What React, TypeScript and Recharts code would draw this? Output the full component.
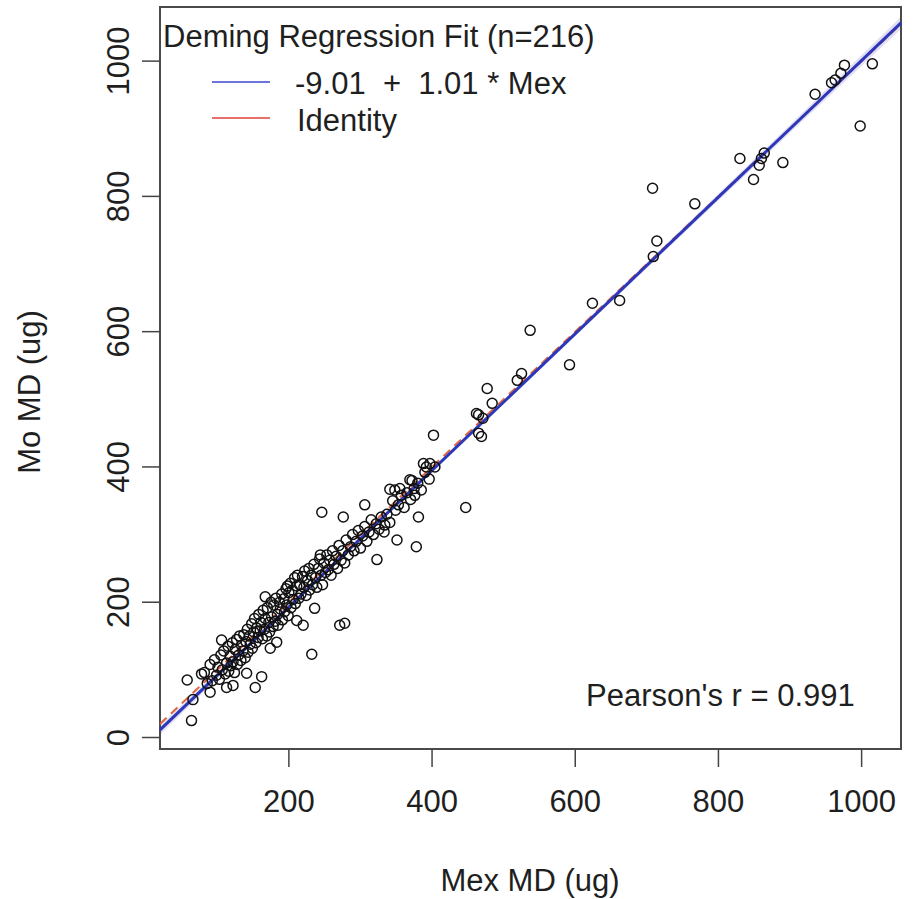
import { ComposedChart, Scatter, Area, XAxis, YAxis, ReferenceLine, ReferenceArea, Customized } from 'recharts'

const xTicks = [200, 400, 600, 800, 1000]
const yTicks = [0, 200, 400, 600, 800, 1000]
const xDomain = [20, 1055]
const yDomain = [-17, 1080]

const fitIntercept = -9.01
const fitSlope = 1.01
const pearsonR = 0.991

// confidence band around the fit, half-width
const bandX = [20, 150, 300, 500, 700, 900, 1055]
const bandHalf = [7, 4, 3, 3, 4, 6, 9]

// points [Mex, Mo]
const highPoints = [
  [1015, 996], [998, 904], [976, 994], [971, 982], [963, 972], [958, 968], [935, 951],
  [890, 850], [864, 864], [860, 856], [857, 846], [849, 825], [830, 856], [767, 789],
  [714, 734], [709, 711], [708, 812], [662, 646], [624, 642], [592, 551], [537, 602],
  [525, 538], [519, 528], [477, 516], [484, 494], [462, 479],
  [465, 477], [471, 472], [465, 450], [469, 445], [402, 447], [447, 340],
]

const midPoints = [
  [397, 405], [388, 405], [404, 400], [369, 381], [376, 358], [381, 326], [378, 282],
  [351, 292], [348, 366], [341, 367], [334, 314], [323, 263], [306, 344], [276, 326],
  [246, 333], [278, 169], [271, 166], [232, 123], [236, 191], [220, 166], [211, 173],
]

const lowPoints = [
  [162, 90], [153, 74], [141, 95], [122, 77], [113, 74], [90, 67], [58, 85],
  [78, 94], [66, 56], [64, 25], [106, 144], [167, 208], [183, 141], [174, 132],
]

const clusterPoints = [
  [82, 96], [86, 80], [90, 108], [93, 84], [96, 115], [99, 92], [101, 104], [103, 86], [105, 122], [107, 100],
  [109, 128], [111, 94], [113, 110], [115, 135], [116, 98], [118, 120], [119, 106], [121, 140], [122, 112], [124, 96],
  [125, 130], [127, 145], [128, 108], [130, 122], [131, 150], [133, 114], [134, 136], [136, 128], [137, 152], [139, 118],
  [140, 142], [142, 160], [143, 126], [145, 150], [146, 138], [148, 168], [149, 132], [151, 156], [152, 176], [154, 140],
  [155, 162], [157, 148], [158, 182], [160, 158], [161, 170], [163, 146], [164, 188], [166, 160], [167, 176], [169, 150],
  [170, 192], [172, 170], [173, 156], [175, 200], [176, 178], [178, 164], [179, 196], [181, 172], [182, 206], [184, 182],
  [185, 166], [187, 200], [188, 190], [190, 212], [191, 174], [193, 205], [194, 186], [196, 220], [197, 196], [199, 180],
  [200, 214], [202, 228], [203, 192], [205, 218], [206, 204], [208, 236], [209, 198], [211, 224], [212, 240], [214, 206],
  [215, 226], [217, 212], [219, 238], [221, 222], [222, 246], [224, 210], [226, 232], [228, 250], [229, 218], [231, 240],
  [233, 226], [235, 256], [237, 236], [239, 222], [241, 250], [243, 264], [245, 240], [247, 226], [249, 258], [251, 244],
  [253, 270], [255, 248], [257, 262], [259, 240], [261, 276], [263, 256], [266, 268], [268, 250], [270, 284], [273, 262],
  [275, 276], [278, 258], [280, 292], [283, 270], [286, 282], [289, 300], [291, 276], [294, 290], [297, 306], [300, 280],
  [303, 298], [306, 312], [309, 290], [312, 304], [315, 322], [318, 300], [322, 316], [326, 308], [329, 326], [333, 304],
  [337, 330], [341, 318], [345, 350], [349, 336], [353, 344], [357, 358], [361, 340], [365, 362], [370, 352], [375, 368],
  [380, 376], [385, 366], [390, 392], [396, 382], [392, 400], [372, 380], [355, 368], [244, 270], [198, 224],
]

const points = [...highPoints, ...midPoints, ...lowPoints, ...clusterPoints].map(([x, y]) => ({ x, y }))

const bandData = bandX.map((x, i) => {
  const c = fitIntercept + fitSlope * x
  return { x, band: [c - bandHalf[i], c + bandHalf[i]] }
})

const FONT = '"Liberation Sans", Arial, sans-serif'
const TEXT = '#1f1f1f'
const FS = 31

const YTick = ({ x, y, payload }: any) => (
  <text x={x} y={y} transform={`rotate(-90 ${x} ${y})`} textAnchor="middle"
    fontFamily={FONT} fontSize={FS} fill={TEXT}>
    {payload.value}
  </text>
)

const Ring = ({ cx, cy }: any) => (
  <circle cx={cx} cy={cy} r={5} fill="none" stroke="#111" strokeWidth={1.5} />
)

const Labels = () => (
  <g fontFamily={FONT} fill={TEXT} fontSize={FS}>
    <text x={163} y={47}>Deming Regression Fit (n=216)</text>
    <line x1={212} x2={270} y1={82} y2={82} stroke="#3b46d6" strokeWidth={1.5} />
    <text x={295} y={94} style={{ whiteSpace: 'pre' }}>{`-9.01  +  ${fitSlope.toFixed(2)} * Mex`}</text>
    <line x1={212} x2={270} y1={118} y2={118} stroke="#e0403a" strokeWidth={1.5} />
    <text x={297} y={131}>Identity</text>
    <text x={586} y={706}>{`Pearson's r = ${pearsonR}`}</text>
    <text x={530} y={891} textAnchor="middle">Mex MD (ug)</text>
    <text x={40} y={392} transform="rotate(-90 40 392)" textAnchor="middle">Mo MD (ug)</text>
  </g>
)

export default function App() {
  return (
    <div style={{ position: 'absolute', left: 0, top: 0, width: 913, height: 899, background: '#fff' }}>
      <ComposedChart width={913} height={899} data={bandData}
        margin={{ top: 7, right: 12, left: 0, bottom: 0 }}>
        <XAxis dataKey="x" type="number" domain={xDomain} ticks={xTicks} allowDataOverflow
          height={150} tickSize={18} tickMargin={23} axisLine={false}
          tickLine={{ stroke: '#444', strokeWidth: 1.5 }}
          tick={{ fontFamily: FONT, fontSize: FS, fill: TEXT }} />
        <YAxis dataKey="y" type="number" domain={yDomain} ticks={yTicks} allowDataOverflow
          width={160} tickSize={18} tickMargin={13} axisLine={false}
          tickLine={{ stroke: '#444', strokeWidth: 1.5 }} tick={<YTick />} />
        <Area dataKey="band" type="linear" stroke="none" fill="#cfc8ee" fillOpacity={0.6}
          isAnimationActive={false} />
        <Scatter data={points} shape={<Ring />} isAnimationActive={false} />
        <ReferenceLine segment={[{ x: xDomain[0], y: xDomain[0] }, { x: xDomain[1], y: xDomain[1] }]}
          stroke="#e2643a" strokeWidth={2} strokeDasharray="9 6" />
        <ReferenceLine segment={[
          { x: xDomain[0], y: fitIntercept + fitSlope * xDomain[0] },
          { x: xDomain[1], y: fitIntercept + fitSlope * xDomain[1] },
        ]} stroke="#2d38b8" strokeWidth={3} />
        <ReferenceArea x1={xDomain[0]} x2={xDomain[1]} y1={yDomain[0]} y2={yDomain[1]}
          fill="none" stroke="#4a4a4a" strokeWidth={2} ifOverflow="visible" />
        <Customized component={<Labels />} />
      </ComposedChart>
    </div>
  )
}
